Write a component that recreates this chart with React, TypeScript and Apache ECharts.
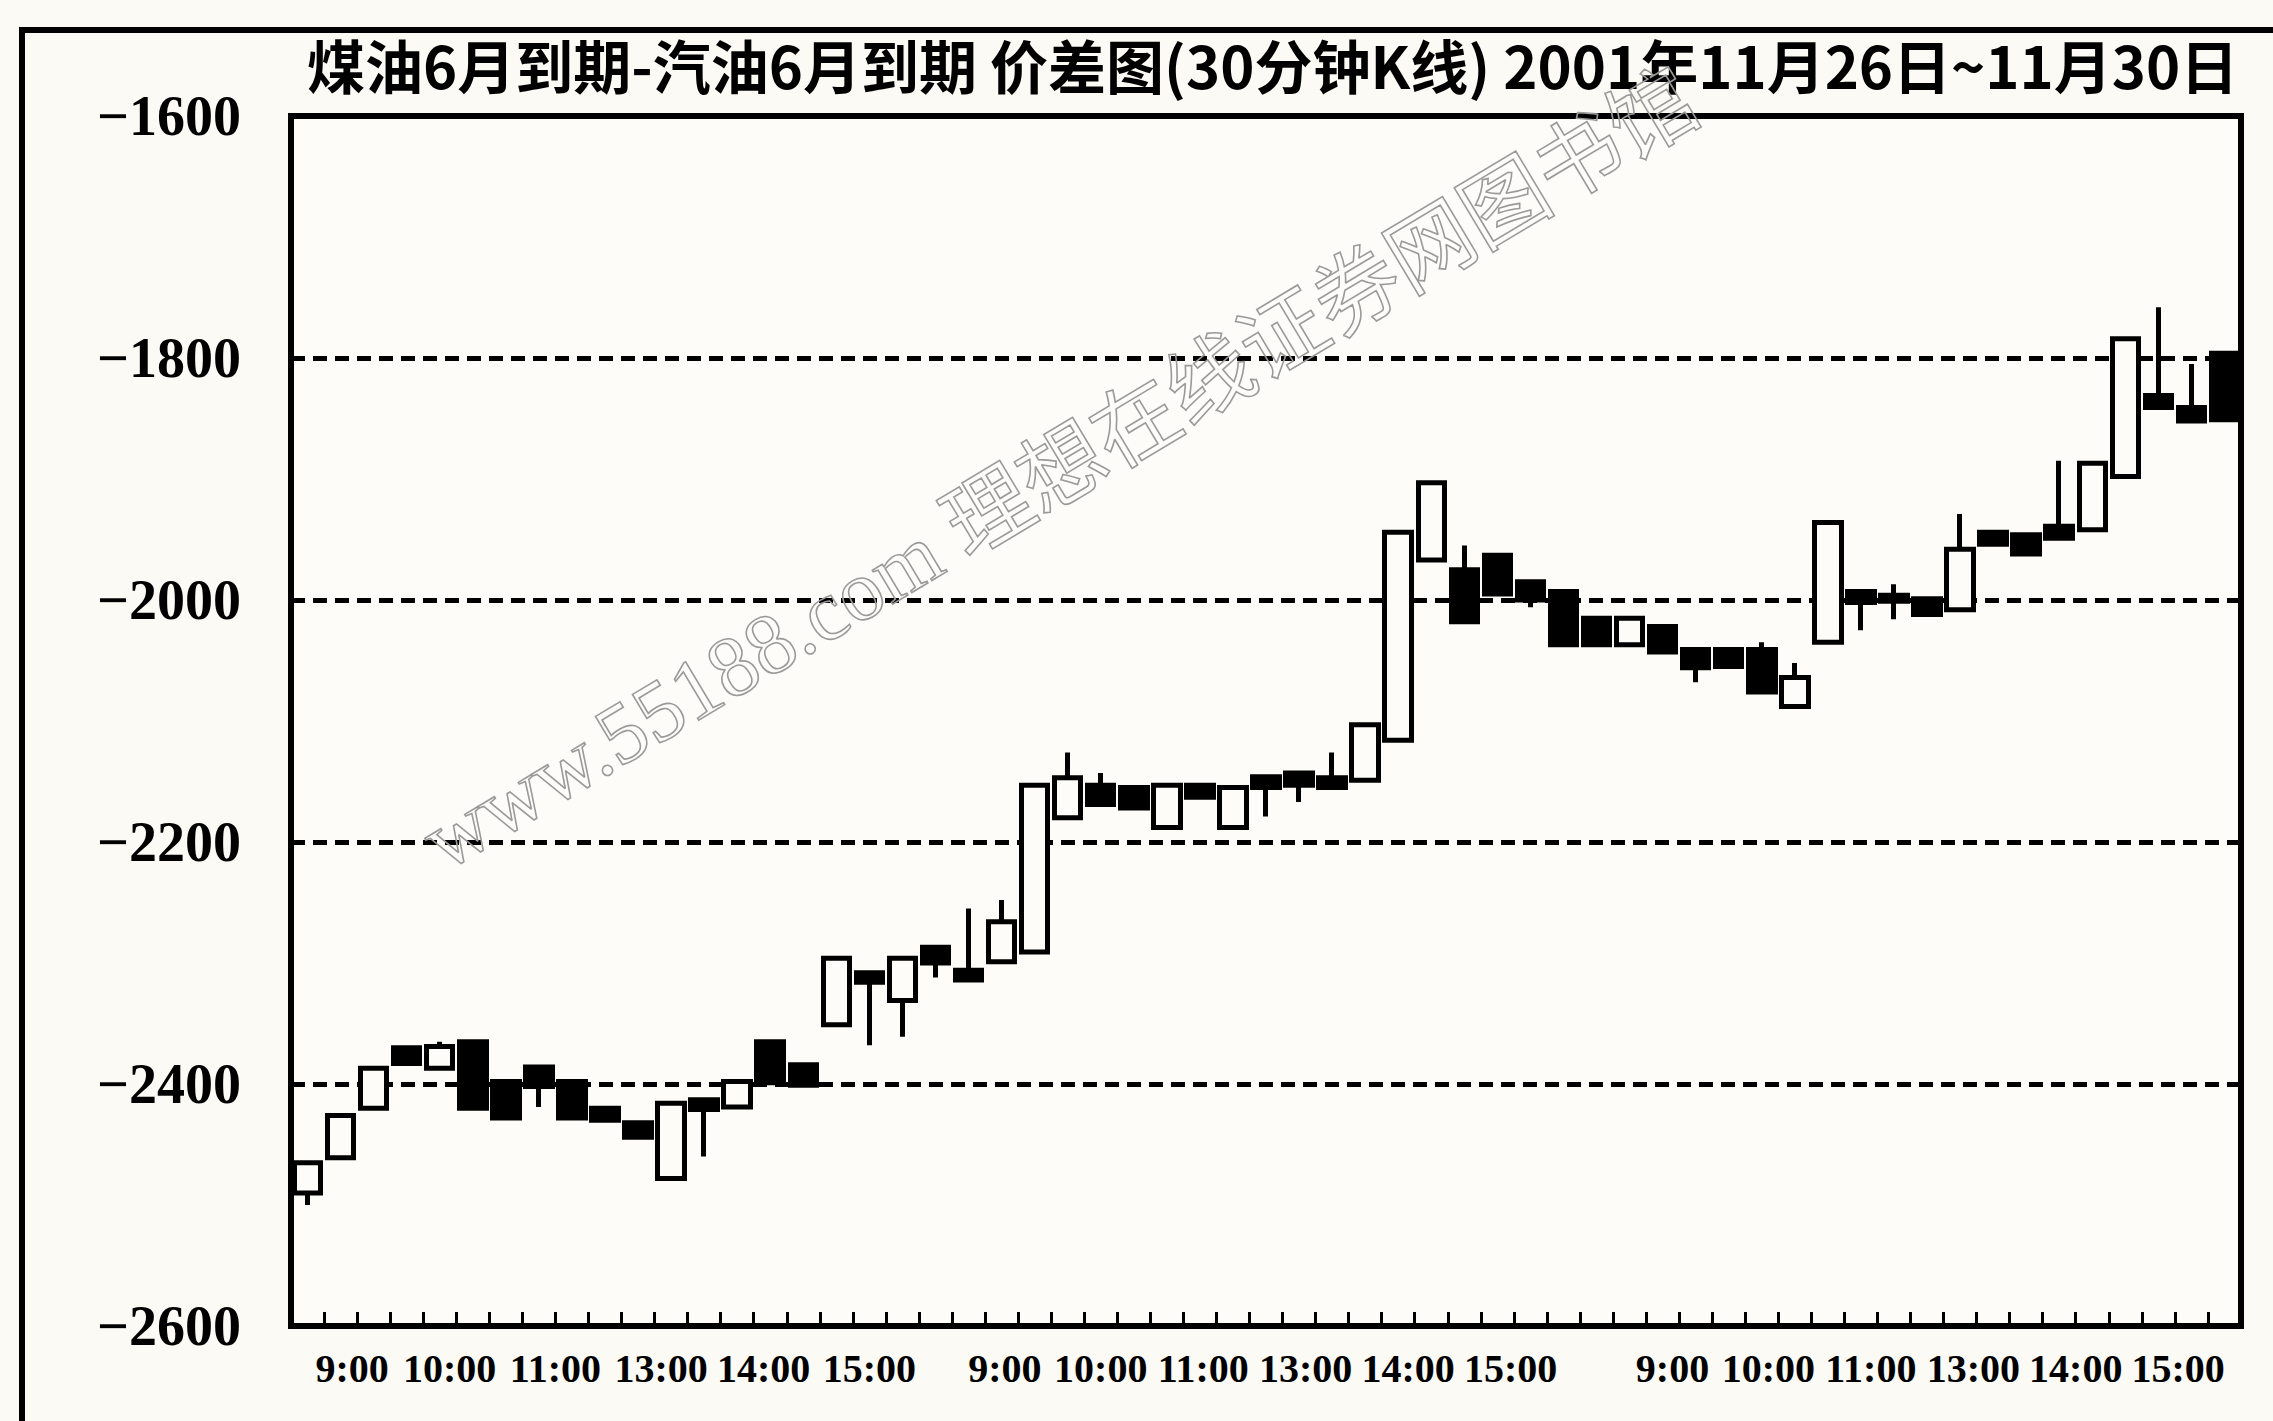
import React, { useEffect, useRef } from 'react';
import * as echarts from 'echarts';

const titleText = '煤油6月到期-汽油6月到期 价差图(30分钟K线) 2001年11月26日~11月30日';
const watermarkText = 'www.55188.com 理想在线证券网图书馆';

const dayNames = ['11-26', '11-27', '11-28'];
const barsPerDay = [20, 20, 19];
const categories: string[] = [];
dayNames.forEach((d, i) => {
  for (let k = 1; k <= barsPerDay[i]; k++) categories.push(`${d} #${k}`);
});

const opens = [
  -2490, -2461, -2420, -2370, -2387, -2365, -2398, -2386, -2398, -2420,
  -2432, -2478, -2413, -2419, -2365, -2384, -2351, -2308, -2331, -2287,
  -2306, -2299, -2291, -2180, -2153, -2155, -2188, -2153, -2188, -2146,
  -2143, -2147, -2149, -2116, -1967, -1975, -1963, -1985, -1993, -2015,
  -2037, -2022, -2041, -2041, -2041, -2088, -2035, -1993, -1996, -1999,
  -2008, -1944, -1946, -1939, -1942, -1898, -1831, -1841, -1796,
];
const closes = [
  -2465, -2426, -2387, -2383, -2369, -2420, -2428, -2402, -2428, -2430,
  -2444, -2416, -2421, -2398, -2399, -2401, -2296, -2316, -2296, -2300,
  -2314, -2266, -2153, -2147, -2169, -2172, -2153, -2163, -2155, -2155,
  -2153, -2155, -2103, -1944, -1903, -2018, -1995, -2000, -2037, -2037,
  -2015, -2043, -2056, -2055, -2076, -2064, -1936, -2002, -2001, -2012,
  -1958, -1954, -1962, -1949, -1887, -1784, -1841, -1852, -1851,
];
const lows = [
  -2500, -2461, -2420, -2383, -2387, -2420, -2428, -2419, -2428, -2430,
  -2444, -2478, -2460, -2419, -2399, -2401, -2351, -2368, -2361, -2312,
  -2314, -2299, -2291, -2180, -2169, -2172, -2188, -2163, -2188, -2179,
  -2167, -2155, -2149, -2116, -1967, -2018, -1995, -2006, -2037, -2037,
  -2037, -2043, -2068, -2055, -2076, -2088, -2035, -2025, -2016, -2012,
  -2008, -1954, -1962, -1949, -1942, -1898, -1841, -1852, -1851,
];
const highs = [
  -2465, -2426, -2387, -2370, -2365, -2365, -2398, -2386, -2398, -2420,
  -2432, -2416, -2413, -2398, -2365, -2384, -2296, -2308, -2296, -2287,
  -2255, -2248, -2153, -2126, -2143, -2155, -2153, -2153, -2155, -2146,
  -2143, -2126, -2103, -1944, -1903, -1955, -1963, -1985, -1993, -2015,
  -2015, -2022, -2041, -2041, -2035, -2052, -1936, -1993, -1987, -1999,
  -1929, -1944, -1946, -1885, -1887, -1784, -1758, -1805, -1796,
];

const timeLabels = [
  '9:00', '10:00', '11:00', '13:00', '14:00', '15:00',
  '9:00', '10:00', '11:00', '13:00', '14:00', '15:00',
  '9:00', '10:00', '11:00', '13:00', '14:00', '15:00',
];
// label positions on the bar scale (bar i spans i..i+1)
const timeLabelPositions = [
  1.85, 4.8, 8.0, 11.2, 14.3, 17.5,
  21.6, 24.5, 27.6, 30.7, 33.8, 36.9,
  41.8, 44.7, 47.8, 50.9, 54.0, 57.1,
];

const yMin = -2600;
const yMax = -1600;
const yStep = 200;

export default function App() {
  const ref = useRef<HTMLDivElement>(null);
  useEffect(() => {
    document.body.style.margin = '0';
    const el = ref.current!;
    const chart = echarts.init(el, null, { renderer: 'svg' });
    const bg = '#fbfaf4';
    const candleData = opens.map((o, i) => [o, closes[i], lows[i], highs[i]]);
    chart.setOption({
      animation: false,
      backgroundColor: bg,
      title: {
        text: titleText,
        left: 302,
        top: 30,
        textStyle: {
          fontFamily: 'Noto Sans CJK SC',
          fontWeight: 'bold',
          fontSize: 58,
          color: '#000',
        },
      },
      graphic: [
        {
          type: 'rect',
          silent: true,
          shape: { x: 22, y: 30, width: 2400, height: 1500 },
          style: { fill: 'none', stroke: '#000', lineWidth: 6 },
          z: 0,
        },
        {
          type: 'text',
          silent: true,
          x: 1060,
          y: 470,
          rotation: 0.54,
          style: {
            text: watermarkText,
            fontFamily: 'Liberation Serif, Noto Sans CJK SC',
            fontSize: 86,
            fill: 'rgba(0,0,0,0)',
            stroke: '#9a9a9a',
            lineWidth: 1.6,
            align: 'center',
            verticalAlign: 'middle',
          },
          z: 100,
        },
      ],
      grid: {
        left: 291,
        top: 116,
        width: 1950,
        height: 1210,
        show: true,
        borderColor: '#000',
        borderWidth: 6,
        backgroundColor: '#fdfcf8',
        containLabel: false,
      },
      xAxis: [
        {
          type: 'category',
          data: categories,
          boundaryGap: true,
          axisLine: { show: true, lineStyle: { color: '#000', width: 6 } },
          axisTick: {
            show: true,
            inside: true,
            length: 14,
            alignWithLabel: false,
            interval: 0,
            lineStyle: { color: '#000', width: 3 },
          },
          axisLabel: { show: false },
          splitLine: { show: false },
        },
        {
          type: 'value',
          min: 0,
          max: categories.length,
          position: 'bottom',
          axisLine: { show: false },
          axisTick: { show: false },
          splitLine: { show: false },
          axisLabel: {
            show: true,
            customValues: timeLabelPositions,
            margin: 22,
            fontFamily: 'Liberation Serif',
            fontWeight: 'bold',
            fontSize: 40,
            color: '#000',
            formatter: (v: number) => {
              let best = 0;
              let bd = Infinity;
              timeLabelPositions.forEach((p, i) => {
                const d = Math.abs(p - v);
                if (d < bd) {
                  bd = d;
                  best = i;
                }
              });
              return timeLabels[best];
            },
          },
        },
      ],
      yAxis: {
        type: 'value',
        min: yMin,
        max: yMax,
        interval: yStep,
        axisLine: { show: false },
        axisTick: { show: false },
        axisLabel: {
          margin: 50,
          fontFamily: 'Liberation Serif',
          fontWeight: 'bold',
          fontSize: 56,
          color: '#000',
          formatter: (v: number) => String(v).replace('-', '\u2212'),
        },
        splitLine: {
          show: true,
          lineStyle: { color: '#000', width: 5, type: [14, 8] },
        },
      },
      series: [
        {
          type: 'candlestick',
          xAxisIndex: 0,
          yAxisIndex: 0,
          data: candleData,
          barWidth: 27,
          itemStyle: {
            color: '#fdfcf8',
            color0: '#000',
            borderColor: '#000',
            borderColor0: '#000',
            borderColorDoji: '#000',
            borderWidth: 5,
          },
          z: 5,
        },
      ],
    });
    return () => chart.dispose();
  }, []);
  return <div ref={ref} style={{ width: 2273, height: 1421 }} />;
}
